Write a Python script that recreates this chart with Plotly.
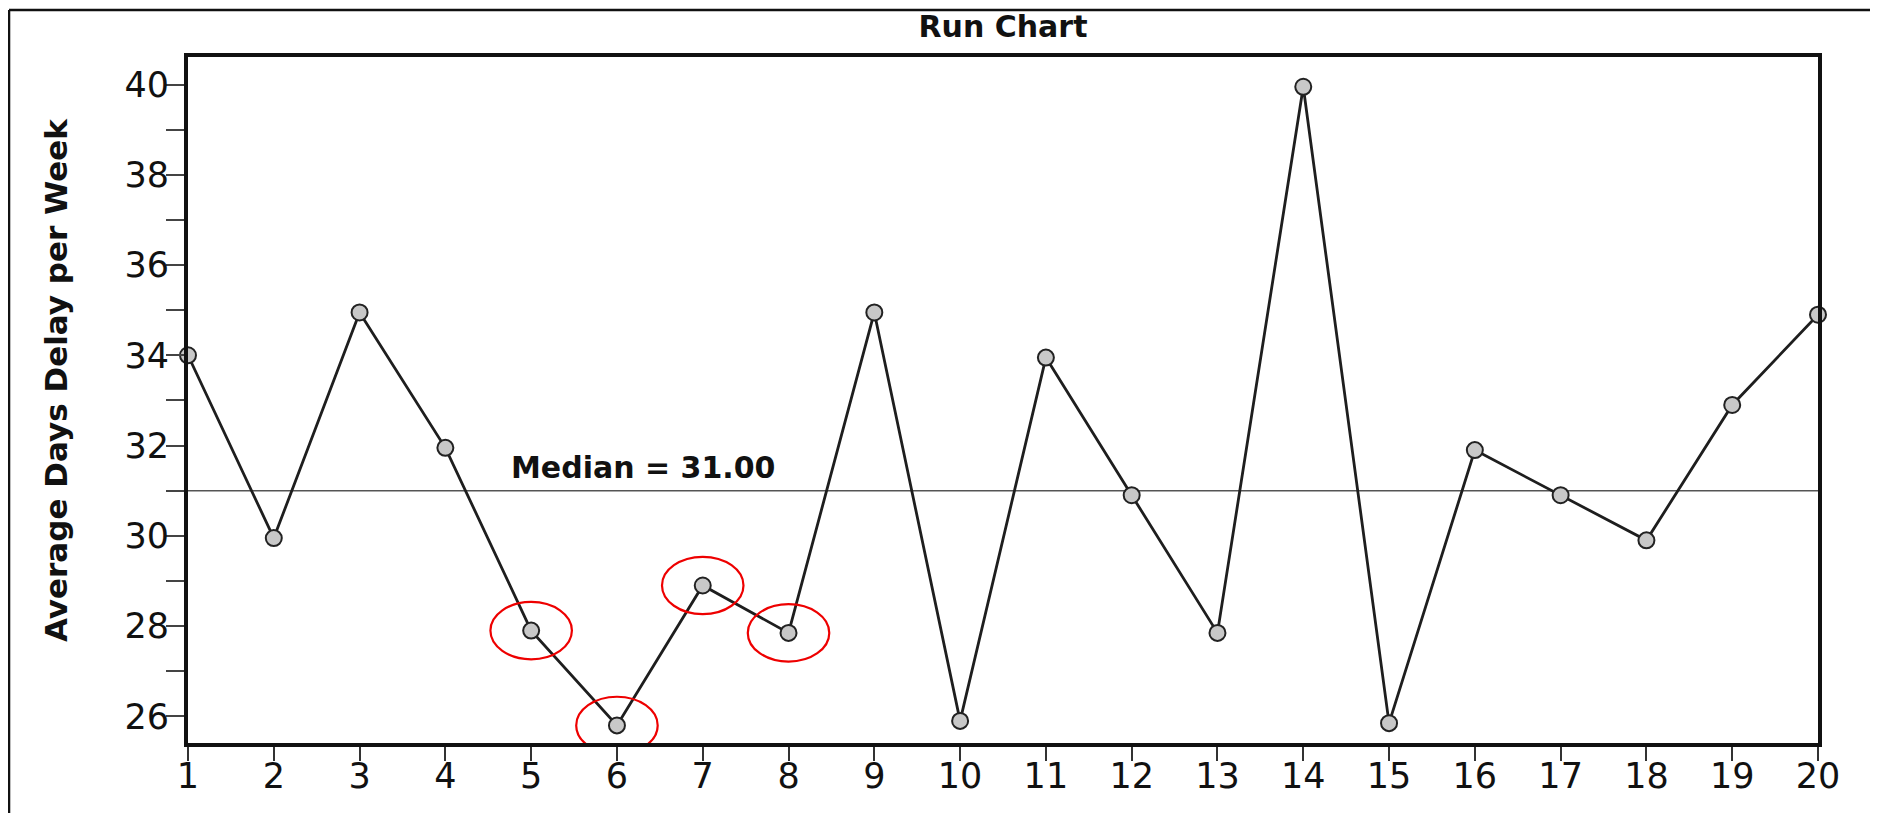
import plotly.graph_objects as go

weeks = list(range(1, 21))
avg_delay = [34.0, 29.95, 34.95, 31.95, 27.9, 25.8, 28.9, 27.85, 34.95, 25.9,
             33.95, 30.9, 27.85, 39.95, 25.85, 31.9, 30.9, 29.9, 32.9, 34.9]
median_value = 31.0
highlight_weeks = [5, 6, 7, 8]
y_major_ticks = [26, 28, 30, 32, 34, 36, 38, 40]
y_minor_ticks = [27, 29, 31, 33, 35, 37, 39]

FONT = "DejaVu Sans, Liberation Sans, Arial, sans-serif"

fig = go.Figure()

fig.add_trace(go.Scatter(
    x=weeks, y=avg_delay, mode="lines+markers",
    line=dict(color="#1e1e1e", width=2.8),
    marker=dict(symbol="circle", size=16, color="#c8c8c8",
                line=dict(color="#222222", width=2)),
    cliponaxis=False, showlegend=False, hoverinfo="x+y",
))

shapes = []
# median line
shapes.append(dict(type="line", xref="paper", yref="y", x0=0, x1=1,
                   y0=median_value, y1=median_value,
                   line=dict(color="#555555", width=1.5), layer="below"))
# red ellipses around highlighted run
for w in highlight_weeks:
    v = avg_delay[weeks.index(w)]
    shapes.append(dict(type="circle", xref="x", yref="y",
                       x0=w - 0.475, x1=w + 0.475, y0=v - 0.635, y1=v + 0.635,
                       line=dict(color="#ee0000", width=2.2), layer="above"))
# outer picture frame (left + top)
shapes.append(dict(type="line", xref="paper", yref="paper",
                   x0=-0.1098, x1=1.1, y0=1.0685, y1=1.0685,
                   line=dict(color="#111111", width=2.5)))
shapes.append(dict(type="line", xref="paper", yref="paper",
                   x0=-0.1098, x1=-0.1098, y0=1.0685, y1=-0.2,
                   line=dict(color="#111111", width=2.5)))

annotations = [
    dict(x=6.3, y=median_value, xref="x", yref="y", text=f"<b>Median = {median_value:.2f}</b>",
         showarrow=False, xanchor="center", yanchor="middle", yshift=23,
         font=dict(family=FONT, size=30, color="#111111")),
    dict(x=-0.081, y=0.529, xref="paper", yref="paper",
         text="<b>Average Days Delay per Week</b>", textangle=-90,
         showarrow=False, xanchor="center", yanchor="middle",
         font=dict(family=FONT, size=31, color="#111111")),
]

fig.update_layout(
    width=1870, height=805,
    margin=dict(l=180, r=60, t=49, b=70, autoexpand=False),
    paper_bgcolor="white", plot_bgcolor="white",
    title=dict(text="<b>Run Chart</b>", x=0.5, xref="paper", xanchor="center",
               y=1 - 18 / 805, yref="container", yanchor="middle",
               font=dict(family=FONT, size=30, color="#111111")),
    shapes=shapes, annotations=annotations,
    font=dict(family=FONT, color="#111111"),
)

fig.update_xaxes(
    range=[1, 20], tickmode="array", tickvals=weeks, ticktext=[str(w) for w in weeks],
    showgrid=False, zeroline=False,
    showline=True, linecolor="#111111", linewidth=4, mirror=True,
    ticks="outside", ticklen=14, tickwidth=2, tickcolor="#333333",
    ticklabelstandoff=-15,
    tickfont=dict(family=FONT, size=35, color="#111111"),
)
fig.update_yaxes(
    range=[25.41, 40.61], tickmode="array", tickvals=y_major_ticks,
    ticktext=[str(t) for t in y_major_ticks],
    showgrid=False, zeroline=False,
    showline=True, linecolor="#111111", linewidth=4, mirror=True,
    ticks="outside", ticklen=18, tickwidth=2, tickcolor="#444444",
    ticklabelstandoff=-10,
    minor=dict(tickmode="array", tickvals=y_minor_ticks,
               ticks="outside", ticklen=18, tickwidth=2, tickcolor="#444444"),
    tickfont=dict(family=FONT, size=35, color="#111111"),
)

fig.write_html("out.html")
